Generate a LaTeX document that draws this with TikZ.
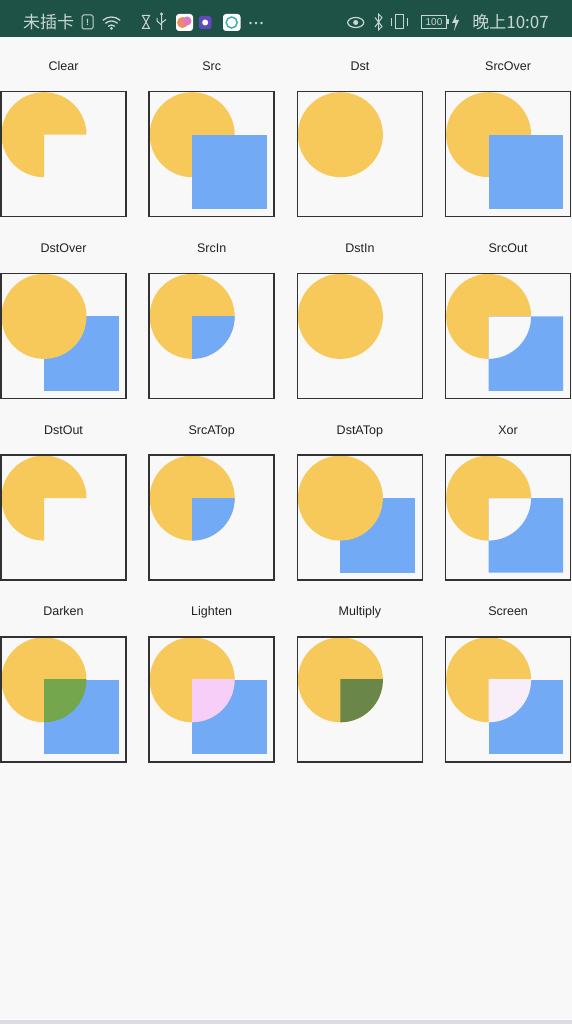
\documentclass[tikz,border=0pt]{standalone}
\usepackage{fontspec}
\setmainfont{Liberation Sans}
\newfontfamily\cjk{Noto Sans CJK SC}
\usetikzlibrary{backgrounds}

\definecolor{pagebg}{RGB}{248,248,248}
\definecolor{barc}{RGB}{31,82,71}
\definecolor{bartextc}{RGB}{200,214,209}
\definecolor{navc}{RGB}{220,221,224}
\definecolor{framec}{RGB}{50,50,50}
\definecolor{captionc}{RGB}{33,33,33}
\definecolor{yellowc}{RGB}{246,201,90}
\definecolor{bluec}{RGB}{115,170,246}
\definecolor{darkenc}{RGB}{116,166,77}
\definecolor{lightenc}{RGB}{246,206,248}
\definecolor{multiplyc}{RGB}{106,134,72}
\definecolor{screenc}{RGB}{248,238,250}
\definecolor{appa}{RGB}{238,140,96}
\definecolor{appb}{RGB}{226,120,190}
\definecolor{appc}{RGB}{96,72,190}
\definecolor{appd}{RGB}{70,170,170}

%% circle = dst, square = src (local coords of one panel)
\newcommand{\dstdisc}{\fill[dst] (43,43) circle[radius=42.5pt];}
\newcommand{\dstcut}{\begin{scope}\clip (0,0) -- (125,0) -- (125,43) -- (43,43) -- (43,125) -- (0,125) -- cycle; \dstdisc\end{scope}}
\newcommand{\srcsquare}{\fill[src] (43,43) rectangle (117.5,117.5);}
\newcommand{\srccut}{\begin{scope}\clip (43,43) rectangle (117.5,117.5); \fill[src, even odd rule] (43,43) rectangle (117.5,117.5) (43,43) circle[radius=42.5pt];\end{scope}}
\newcommand{\quartfill}[1]{\begin{scope}\clip (43,43) rectangle (117.5,117.5); \fill[#1] (43,43) circle[radius=42.5pt];\end{scope}}

\begin{document}
\begin{tikzpicture} [x=1pt, y=-1pt, panel/.style={rectangle, draw=framec, line width=1.5pt, minimum size=125pt, inner sep=0pt, outer sep=0pt}, caption/.style={anchor=base, inner sep=0pt, text=captionc, font=\fontsize{12.5}{15}\selectfont}, dst/.style={fill=yellowc}, src/.style={fill=bluec}, bartext/.style={inner sep=0pt, text=bartextc, font=\cjk\fontsize{17}{20}\selectfont}, icon/.style={draw=bartextc, line width=1.2pt}]
{
  \begin{scope}[on background layer]
    \fill[pagebg] (0,0) rectangle (572,1024);
  \end{scope}
  \useasboundingbox (0,0) rectangle (572,1024);

  %% Status bar
  \fill[barc] (0,0) rectangle (572,37);
  \fill[white] (0,37) rectangle (572,38.5);
  \node[bartext, anchor=west] (nosim) at (23,22) {未插卡};
  \node[bartext, anchor=east] (clock) at (549,22) {晚上10:07};
  % left icons
  \draw[icon, line width=1pt, rounded corners=1.5pt] (82,15) rectangle (93,29);
  \node[inner sep=0pt, text=bartextc, font=\bfseries\fontsize{9}{9}\selectfont] (simmark) at (87.5,22.5) {!};
  \foreach \r in {5,9,13}
    \draw[icon, line width=1.3pt] (111.5,30) ++(48:\r pt) arc[start angle=48, end angle=132, radius=\r pt];
  \fill[bartextc] (111.5,28.5) circle[radius=1.5pt];
  \draw[icon, line width=1pt] (142.5,15.5) -- (149.5,15.5) -- (142.5,28.5) -- (149.5,28.5) -- cycle;
  \draw[icon, line width=1pt] (161.5,14) -- (161.5,30) (161.5,25) -- (157,21) -- (157,18) (161.5,23) -- (166,19.5);
  \fill[bartextc] (161.5,14) circle[radius=1.6pt];
  \fill[white, rounded corners=3pt] (176,14) rectangle (193,31);
  \fill[appa] (182.5,22.5) circle[radius=5.5pt];
  \fill[appb] (187,21) circle[radius=4.5pt];
  \fill[appc, rounded corners=2.5pt] (199,16) rectangle (211.5,29);
  \fill[white] (205.2,22.5) circle[radius=3pt];
  \fill[white, rounded corners=3pt] (223,14) rectangle (240.5,31);
  \draw[appd, line width=1.5pt] (231.7,22.5) circle[radius=5.5pt];
  \foreach \d in {250.5,256,261.5}
    \fill[bartextc] (\d,23) circle[radius=1.3pt];
  % right icons
  \draw[icon] (355.7,22.5) ellipse[x radius=8pt, y radius=5pt];
  \fill[bartextc] (355.7,22.5) circle[radius=2.5pt];
  \draw[icon, line width=1pt] (375,17.5) -- (382,26.5) -- (378.5,30) -- (378.5,14) -- (382,17.5) -- (375,27);
  \draw[icon, line width=1pt] (395,15) rectangle (403,29);
  \draw[icon, line width=1pt] (391,18) -- (391,26) (407,18) -- (407,26);
  \draw[icon, line width=1pt] (421.5,15.5) rectangle (446.5,28.5);
  \fill[bartextc] (446.5,19.5) rectangle (448.5,24.5);
  \node[inner sep=0pt, text=bartextc, font=\fontsize{10}{10}\selectfont] (batt) at (434,22.5) {100};
  \fill[bartextc] (456.5,14) -- (452,23) -- (455.5,23) -- (454,31) -- (459,20) -- (455.5,20) -- cycle;

  %% Panels
  \foreach \name [count=\i from 0] in {Clear,Src,Dst,SrcOver,DstOver,SrcIn,DstIn,SrcOut,DstOut,SrcATop,DstATop,Xor,Darken,Lighten,Multiply,Screen} {
    \pgfmathtruncatemacro{\col}{mod(\i,4)}
    \pgfmathtruncatemacro{\row}{div(\i,4)}
    \node[panel] (\name) at ({63.5+148.2*\col},{154.2+181.7*\row}) {};
    \node[caption] (\name-t) at ([yshift=21pt]\name.north) {\name};
  }

  %% Shapes, behind the frames
  \begin{scope}[on background layer]
    % row 1
    \begin{scope}[shift={(Clear.north west)}] \dstcut \end{scope}
    \begin{scope}[shift={(Src.north west)}] \dstdisc \srcsquare \end{scope}
    \begin{scope}[shift={(Dst.north west)}] \dstdisc \end{scope}
    \begin{scope}[shift={(SrcOver.north west)}] \dstdisc \srcsquare \end{scope}
    % row 2
    \begin{scope}[shift={(DstOver.north west)}] \srcsquare \dstdisc \end{scope}
    \begin{scope}[shift={(SrcIn.north west)}] \dstdisc \quartfill{bluec} \end{scope}
    \begin{scope}[shift={(DstIn.north west)}] \dstdisc \end{scope}
    \begin{scope}[shift={(SrcOut.north west)}] \dstcut \srccut \end{scope}
    % row 3
    \begin{scope}[shift={(DstOut.north west)}] \dstcut \end{scope}
    \begin{scope}[shift={(SrcATop.north west)}] \dstdisc \quartfill{bluec} \end{scope}
    \begin{scope}[shift={(DstATop.north west)}] \srcsquare \dstdisc \end{scope}
    \begin{scope}[shift={(Xor.north west)}] \dstcut \srccut \end{scope}
    % row 4
    \begin{scope}[shift={(Darken.north west)}] \dstdisc \srcsquare \quartfill{darkenc} \end{scope}
    \begin{scope}[shift={(Lighten.north west)}] \dstdisc \srcsquare \quartfill{lightenc} \end{scope}
    \begin{scope}[shift={(Multiply.north west)}] \dstdisc \quartfill{multiplyc} \end{scope}
    \begin{scope}[shift={(Screen.north west)}] \dstdisc \srcsquare \quartfill{screenc} \end{scope}
  \end{scope}

  %% Navigation strip
  \fill[white] (0,1018.5) rectangle (572,1020);
  \fill[navc] (0,1020) rectangle (572,1024);
}
\end{tikzpicture}
\end{document}
